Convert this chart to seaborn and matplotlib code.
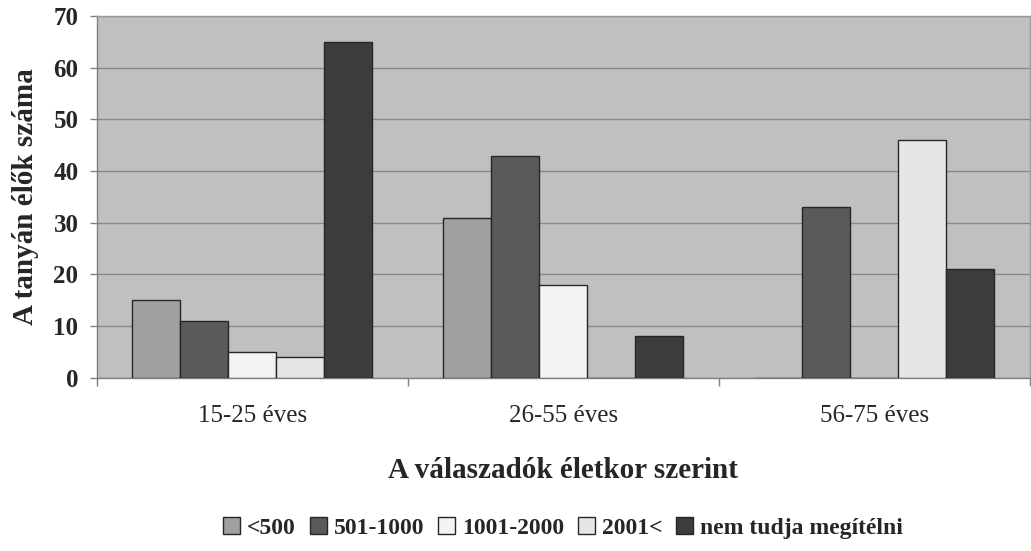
import matplotlib
matplotlib.use("Agg")
import matplotlib.pyplot as plt
import seaborn as sns
import pandas as pd
from matplotlib.ticker import FixedLocator

# Age groups of respondents
age_groups = ["15-25 éves", "26-55 éves", "56-75 éves"]
# Estimated number of people living on the farm (answer categories)
answer_cats = ["<500", "501-1000", "1001-2000", "2001<", "nem tudja megítélni"]

lt_500 = [15, 31, 0]
r_501_1000 = [11, 43, 33]
r_1001_2000 = [5, 18, 0]
gt_2001 = [4, 0, 46]
unknown = [65, 8, 21]

series = [lt_500, r_501_1000, r_1001_2000, gt_2001, unknown]
colors = ["#a0a0a0", "#5a5a5a", "#f3f3f3", "#e6e6e6", "#3c3c3c"]

rows = []
for cat, vals in zip(answer_cats, series):
    for grp, v in zip(age_groups, vals):
        rows.append({"kor": grp, "valasz": cat, "db": v})
df = pd.DataFrame(rows)

sns.set_theme(style="white")
plt.rcParams["font.family"] = ["Liberation Serif", "DejaVu Serif"]

fig = plt.figure(figsize=(10.31, 5.51), dpi=100)
ax = fig.add_axes([0.0936, 0.3145, 0.9054, 0.6565])
ax.set_facecolor("#c0c0c0")

sns.barplot(data=df, x="kor", y="db", hue="valasz", order=age_groups,
            hue_order=answer_cats, palette=colors, width=0.772,
            edgecolor="#262626", linewidth=1.0, saturation=1, ax=ax,
            errorbar=None, zorder=3)

ax.set_ylim(0, 70)
ax.set_xlim(-0.5, 2.5)
ax.set_yticks(range(0, 71, 10))
ax.yaxis.grid(True, color="#888888", linewidth=1.0, zorder=0)
ax.set_axisbelow(True)

for s in ["top", "right"]:
    ax.spines[s].set_color("#9a9a9a")
    ax.spines[s].set_linewidth(1.0)
for s in ["left", "bottom"]:
    ax.spines[s].set_color("#808080")
    ax.spines[s].set_linewidth(1.0)

ax.tick_params(axis="y", which="major", left=True, length=5, width=1,
               color="#808080", labelsize=18, pad=8)
for lbl in ax.get_yticklabels():
    lbl.set_fontweight("bold")
ax.tick_params(axis="x", which="major", bottom=False, labelsize=18, pad=14)
ax.xaxis.set_minor_locator(FixedLocator([-0.5, 0.5, 1.5, 2.5]))
ax.tick_params(axis="x", which="minor", bottom=True, length=6, width=1,
               color="#808080")

ax.set_xlabel("A válaszadók életkor szerint", fontsize=21, fontweight="bold",
              labelpad=21)
ax.set_ylabel("A tanyán élők száma", fontsize=21, fontweight="bold",
              labelpad=10)

handles, labels = ax.get_legend_handles_labels()
ax.legend(handles, labels, loc="upper center", bbox_to_anchor=(0.5, -0.36),
          ncol=5, frameon=False, prop={"size": 17, "weight": "bold"},
          handlelength=0.7, handleheight=0.7, handletextpad=0.3,
          columnspacing=0.6, borderaxespad=0)

fig.savefig("out.png", dpi=100, facecolor="white")
